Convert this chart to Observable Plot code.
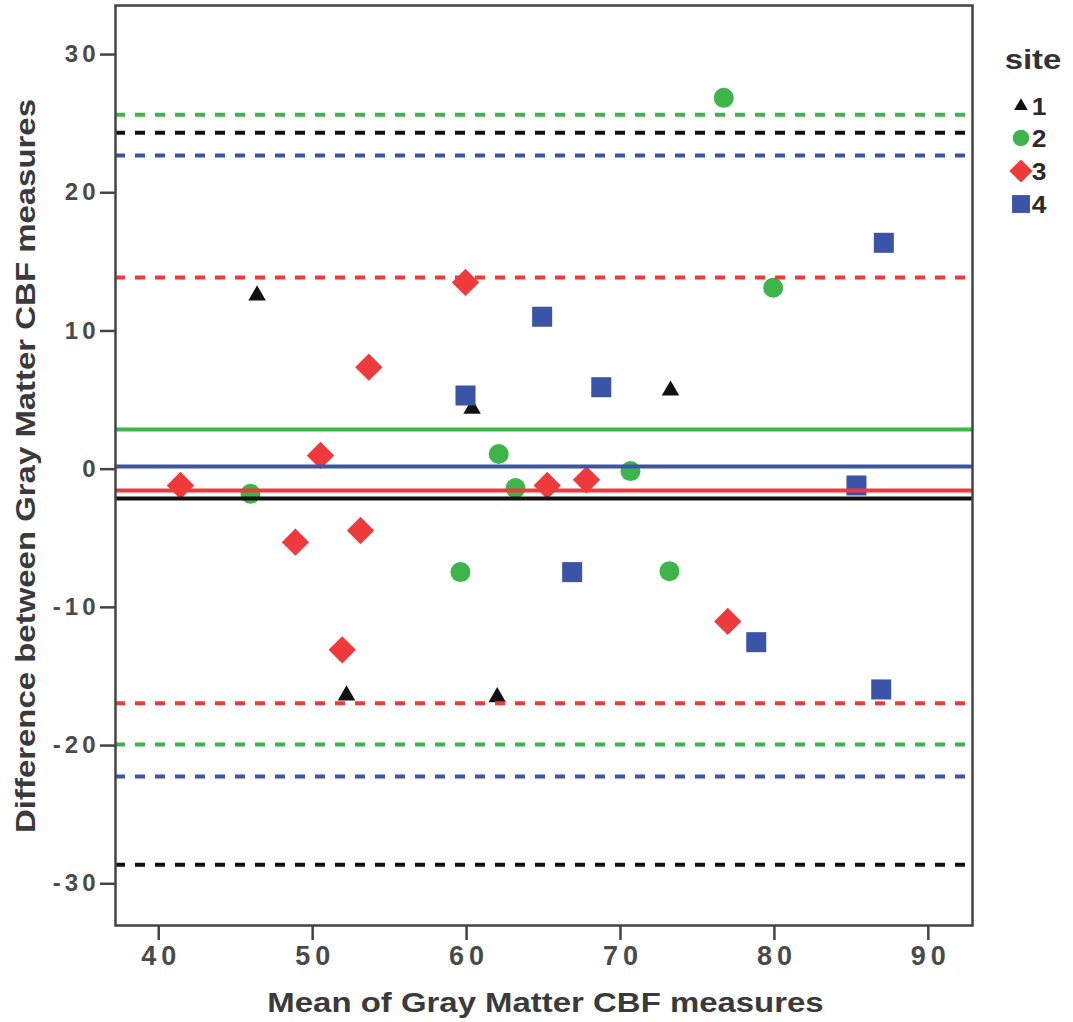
<!DOCTYPE html>
<html>
<head>
<meta charset="utf-8">
<script src="https://cdn.jsdelivr.net/npm/d3@7"></script>
<script src="https://cdn.jsdelivr.net/npm/@observablehq/plot@0.6"></script>
<style>
  body { margin: 0; background: #fff; }
  #chart { width: 1073px; height: 1022px; }
  #chart svg { font-family: "Liberation Sans", Arial, sans-serif; }
  #chart svg [aria-label="x-axis tick label"],
  #chart svg [aria-label="x-axis tick label"] text { font-size: 27px; font-weight: bold; letter-spacing: 5px; fill: #4a4a4a; }
  #chart svg [aria-label="y-axis tick label"],
  #chart svg [aria-label="y-axis tick label"] text { font-size: 24px; font-weight: bold; letter-spacing: 4px; fill: #4a4a4a; }
</style>
</head>
<body>
<div id="chart"></div>
<script>
// ---- data ----
const sites = ["1", "2", "3", "4"];
const site1Mean = [46.39, 60.36, 73.25, 52.20, 61.99];
const site1Diff = [12.57, 4.37, 5.69, -16.37, -16.50];
const site2Mean = [76.71, 79.92, 62.09, 70.65, 45.96, 63.18, 59.60, 73.18];
const site2Diff = [26.87, 13.13, 1.10, -0.14, -1.78, -1.37, -7.45, -7.38];
const site3Mean = [59.93, 53.65, 50.51, 41.41, 65.24, 67.79, 48.88, 53.11, 51.92, 76.97];
const site3Diff = [13.51, 7.38, 0.99, -1.18, -1.18, -0.77, -5.28, -4.44, -13.07, -11.02];
const site4Mean = [87.11, 64.91, 59.93, 68.75, 85.33, 66.86, 78.82, 86.94];
const site4Diff = [16.38, 11.03, 5.33, 5.93, -1.18, -7.45, -12.52, -15.94];
const meanDiff   = [-2.12, 2.87, -1.54, 0.20];
const upperLimit = [24.34, 25.64, 13.86, 22.70];
const lowerLimit = [-28.63, -19.92, -16.93, -22.24];
const xTicks = [40, 50, 60, 70, 80, 90];
const yTicks = [30, 20, 10, 0, -10, -20, -30];
const xTitle = "Mean of Gray Matter CBF measures";
const yTitle = "Difference between Gray Matter CBF measures";
const legendTitle = "site";

// ---- styling ----
const siteColors = ["#111111", "#3db54a", "#ef3a3c", "#3b54a8"];
const diamondSym = {
  draw(ctx, size) {
    const s = Math.sqrt(size / 2);
    ctx.moveTo(0, -s); ctx.lineTo(s, 0); ctx.lineTo(0, s); ctx.lineTo(-s, 0); ctx.closePath();
  }
};
const siteSymbols = [d3.symbolTriangle, d3.symbolCircle, diamondSym, d3.symbolSquare];
const siteRadius = [6.5, 10, 10.9, 11.3];
const legendSizes = [80, 215, 270, 320];

const means = [site1Mean, site2Mean, site3Mean, site4Mean];
const diffs = [site1Diff, site2Diff, site3Diff, site4Diff];
const pointRows = sites.map((s, i) => means[i].map((m, j) => ({site: s, mean: m, diff: diffs[i][j]})));

const marks = [];
sites.forEach((s, i) => {
  marks.push(Plot.dot(pointRows[i], {
    x: "mean", y: "diff", symbol: siteSymbols[i], r: siteRadius[i], fill: siteColors[i], stroke: "none"
  }));
});
sites.forEach((s, i) => {
  marks.push(Plot.ruleY([upperLimit[i], lowerLimit[i]], {
    stroke: siteColors[i], strokeWidth: 4, strokeDasharray: "10,10"
  }));
});
sites.forEach((s, i) => {
  marks.push(Plot.ruleY([meanDiff[i]], {stroke: siteColors[i], strokeWidth: 4}));
});
marks.push(Plot.axisX({
  ticks: xTicks, tickSize: 15, tickPadding: 5, stroke: "#444", strokeWidth: 2.5,
  fill: "#4a4a4a", fontSize: 27, fontWeight: "bold", label: null
}));
marks.push(Plot.axisY({
  ticks: yTicks, tickSize: 15, tickPadding: 1, stroke: "#444", strokeWidth: 2.5,
  fill: "#4a4a4a", fontSize: 24, fontWeight: "bold", label: null,
  tickFormat: d => d < 0 ? "-" + (-d) : String(d)
}));
marks.push(Plot.frame({stroke: "#444", strokeWidth: 2.5}));

const plot = Plot.plot({
  width: 1073,
  height: 1022,
  marginLeft: 115,
  marginRight: 101,
  marginTop: 5,
  marginBottom: 97,
  x: {domain: [37.19, 92.87]},
  y: {domain: [-33.02, 33.55]},
  marks
});

const svg = d3.select(plot);
// compensate trailing letter-spacing on centred x tick labels
svg.selectAll('[aria-label="x-axis tick label"] text').attr("dx", 2.5);

const xr = plot.scale("x").range;
const yr = plot.scale("y").range;
const titleFont = "'Liberation Sans', Arial, sans-serif";

// x title
svg.append("text")
  .attr("transform", `translate(${(xr[0] + xr[1]) / 2 + 2},1012) scale(1.22,1)`)
  .attr("text-anchor", "middle")
  .attr("font-family", titleFont).attr("font-weight", "bold").attr("font-size", 27)
  .attr("fill", "#3a3a3a")
  .text(xTitle);

// y title
svg.append("text")
  .attr("transform", `translate(35,${(yr[0] + yr[1]) / 2 + 1}) rotate(-90) scale(1.22,1)`)
  .attr("text-anchor", "middle")
  .attr("font-family", titleFont).attr("font-weight", "bold").attr("font-size", 27)
  .attr("fill", "#3a3a3a")
  .text(yTitle);

// legend
const lg = svg.append("g").attr("font-family", titleFont).attr("font-weight", "bold");
lg.append("text")
  .attr("transform", "translate(1033,69) scale(1.22,1)")
  .attr("text-anchor", "middle").attr("font-size", 27).attr("fill", "#333")
  .text(legendTitle);
const legendY = [106, 138, 171, 204];
sites.forEach((s, i) => {
  lg.append("path")
    .attr("transform", `translate(1021,${legendY[i]})`)
    .attr("d", d3.symbol().type(siteSymbols[i]).size(legendSizes[i])())
    .attr("fill", siteColors[i]);
  lg.append("text")
    .attr("transform", `translate(1039,${legendY[i] + 9}) scale(1.15,1)`)
    .attr("font-size", 23).attr("fill", "#2a2a2a")
    .text(s);
});

document.getElementById("chart").appendChild(plot);
</script>
</body>
</html>
